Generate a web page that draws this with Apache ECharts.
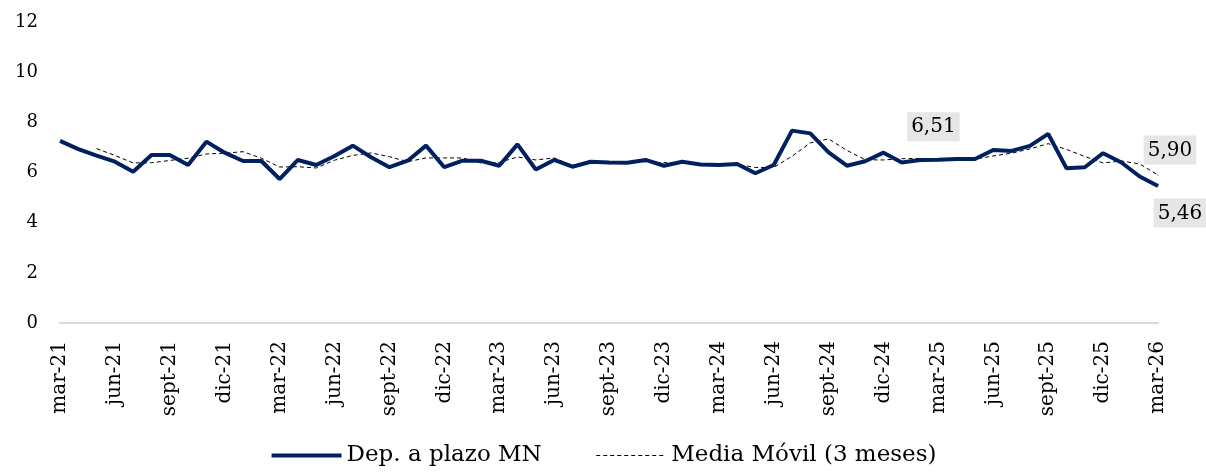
<!DOCTYPE html>
<html>
<head>
<meta charset="utf-8">
<script src="https://cdn.jsdelivr.net/npm/echarts@6/dist/echarts.min.js"></script>
<style>
  html, body { margin: 0; padding: 0; background: #fff; }
  #chart { width: 1206px; height: 472px; }
</style>
</head>
<body>
<div id="chart"></div>
<script>
var meses = [
    'mar-21','abr-21','may-21','jun-21','jul-21','ago-21','sept-21','oct-21','nov-21','dic-21','ene-22','feb-22',
    'mar-22','abr-22','may-22','jun-22','jul-22','ago-22','sept-22','oct-22','nov-22','dic-22','ene-23','feb-23',
    'mar-23','abr-23','may-23','jun-23','jul-23','ago-23','sept-23','oct-23','nov-23','dic-23','ene-24','feb-24',
    'mar-24','abr-24','may-24','jun-24','jul-24','ago-24','sept-24','oct-24','nov-24','dic-24','ene-25','feb-25',
    'mar-25','abr-25','may-25','jun-25','jul-25','ago-25','sept-25','oct-25','nov-25','dic-25','ene-26','feb-26',
    'mar-26'
];

// Dep. a plazo MN (%)
var depPlazo = [
    7.26, 6.93, 6.67, 6.43, 6.03, 6.70, 6.70, 6.30, 7.23, 6.79, 6.46, 6.46,
    5.74, 6.50, 6.30, 6.66, 7.07, 6.61, 6.21, 6.47, 7.07, 6.21, 6.47, 6.47,
    6.27, 7.12, 6.12, 6.50, 6.23, 6.43, 6.40, 6.39, 6.50, 6.27, 6.43, 6.32,
    6.30, 6.34, 5.97, 6.30, 7.67, 7.56, 6.80, 6.27, 6.45, 6.79, 6.40, 6.50,
    6.51, 6.54, 6.54, 6.90, 6.86, 7.06, 7.54, 6.17, 6.21, 6.77, 6.40, 5.84,
    5.46
];

// Media móvil (3 meses)
var mediaMovil = [
    '-', '-', 6.95, 6.68, 6.38, 6.39, 6.48, 6.57, 6.74, 6.77, 6.83, 6.57,
    6.22, 6.23, 6.18, 6.49, 6.68, 6.78, 6.63, 6.43, 6.58, 6.58, 6.58, 6.38,
    6.40, 6.62, 6.50, 6.58, 6.28, 6.39, 6.35, 6.41, 6.43, 6.39, 6.40, 6.34,
    6.35, 6.32, 6.20, 6.20, 6.65, 7.18, 7.34, 6.88, 6.51, 6.50, 6.55, 6.56,
    6.47, 6.52, 6.53, 6.66, 6.77, 6.94, 7.15, 6.92, 6.64, 6.38, 6.46, 6.34,
    5.90
];

var fuente = 'DejaVu Serif';

function fmt(p) {
    return Number(p.value).toFixed(2).replace('.', ',');
}

var etiqueta = {
    show: true,
    formatter: fmt,
    fontFamily: fuente,
    fontSize: 20,
    color: '#000',
    backgroundColor: '#e6e6e6',
    padding: [5, 4, 4, 4]
};

// punto con etiqueta (símbolo mínimo para que se dibuje el rótulo)
function conEtiqueta(v, pos) {
    return {
        value: v,
        symbol: 'circle',
        symbolSize: 1,
        label: Object.assign({}, etiqueta, pos)
    };
}

var serieDep = depPlazo.map(function (v, i) {
    if (i === 48) return conEtiqueta(v, { position: 'top', distance: 18, offset: [-5, 0] });
    if (i === depPlazo.length - 1) return conEtiqueta(v, { position: 'bottom', distance: 12, offset: [22, 0] });
    return v;
});

var serieMedia = mediaMovil.map(function (v, i) {
    if (i === mediaMovil.length - 1) return conEtiqueta(v, { position: 'top', distance: 10, offset: [12, 0] });
    return v;
});

var chart = echarts.init(document.getElementById('chart'));

var option = {
    animation: false,
    textStyle: { fontFamily: fuente },
    grid: {
        left: 60,
        right: 48,
        top: 22,
        bottom: 149
    },
    legend: {
        bottom: 0,
        left: 'center',
        itemWidth: 70,
        itemHeight: 14,
        itemGap: 54,
        itemStyle: { opacity: 0 },
        textStyle: { fontFamily: fuente, fontSize: 23, color: '#000' },
        data: [
            { name: 'Dep. a plazo MN', lineStyle: { width: 4 } },
            { name: 'Media Móvil (3 meses)', lineStyle: { width: 1 } }
        ]
    },
    xAxis: {
        type: 'category',
        boundaryGap: false,
        data: meses,
        axisLine: { lineStyle: { color: '#d9d9d9', width: 2 } },
        axisTick: { show: false },
        axisLabel: {
            interval: 2,
            rotate: 90,
            margin: 18,
            fontFamily: fuente,
            fontSize: 20,
            color: '#000'
        }
    },
    yAxis: {
        type: 'value',
        min: 0,
        max: 12,
        interval: 2,
        axisLine: { show: false },
        axisTick: { show: false },
        splitLine: { show: false },
        axisLabel: {
            margin: 22,
            fontFamily: fuente,
            fontSize: 18,
            color: '#000'
        }
    },
    series: [
        {
            name: 'Dep. a plazo MN',
            type: 'line',
            symbol: 'none',
            data: serieDep,
            lineStyle: { color: '#002060', width: 4 },
            itemStyle: { color: '#002060' },
            z: 3
        },
        {
            name: 'Media Móvil (3 meses)',
            type: 'line',
            symbol: 'none',
            data: serieMedia,
            lineStyle: { color: '#000', width: 1, type: [4, 3] },
            itemStyle: { color: '#000' },
            z: 2
        }
    ]
};

chart.setOption(option);
</script>
</body>
</html>
